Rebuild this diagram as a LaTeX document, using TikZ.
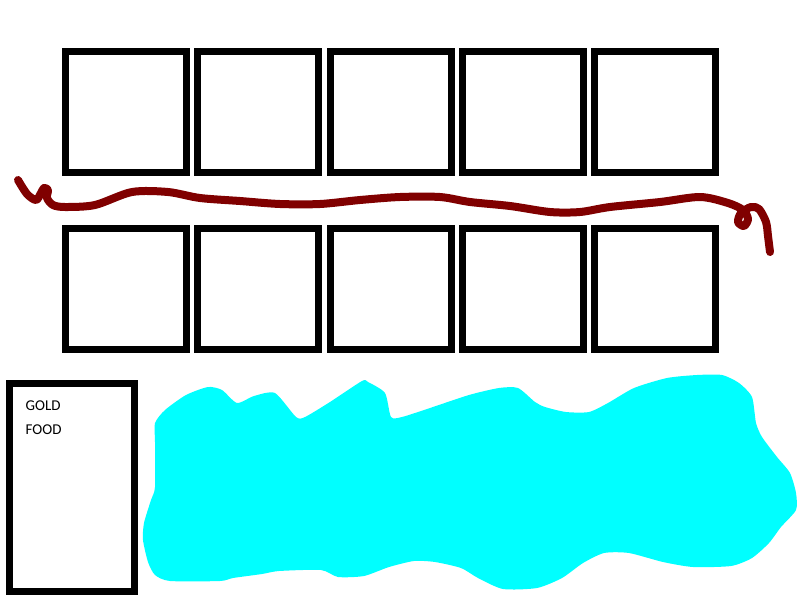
\documentclass[tikz,border=0pt]{standalone}
\usepackage{fontspec}
\setmainfont{Carlito}
\usetikzlibrary{positioning}
\definecolor{mymaroon}{RGB}{128,0,0}
\definecolor{mycyan}{RGB}{0,255,255}
\tikzset{
  slot/.style={rectangle, draw=black, fill=white, line width=7pt,
    minimum width=121pt, minimum height=121pt, inner sep=0pt},
  panel/.style={rectangle, draw=black, fill=white, line width=7pt,
    minimum width=125pt, minimum height=208pt, inner sep=0pt},
  itemtext/.style={inner sep=0pt, anchor=base west,
    font=\fontsize{15}{18}\selectfont, text=black},
  river/.style={draw=mymaroon, line width=8pt, line cap=round, line join=round},
  lake/.style={fill=mycyan, draw=none}
}

\begin{document}
\begin{tikzpicture}[x=1pt, y=-1pt]

  % ── Canvas: 800 x 600 ─────────────────────────────────────────────────────
  \useasboundingbox (0,0) rectangle (800,600);

  % ── Slot rows: top at y=112, bottom at y=289 ──────────────────────────────
  \foreach \i in {0,...,4} {
    \node[slot] (top\i) at ({126+132.25*\i}, 112) {};
    \node[slot] (bot\i) at ({126+132.25*\i}, 289) {};
  }

  % ── Wavy line between the rows ────────────────────────────────────────────
  \draw[river] plot[smooth, tension=0.5] coordinates {
    (18,180) (27,194) (36,200) (41,193) (44,188) (48,190) (47,198)
    (53,205) (65,207) (95,205) (132,192) (168,192) (200,198) (240,201)
    (280,204) (320,204) (360,200) (400,197) (440,197) (470,202)
    (510,206) (550,212) (580,212) (610,207) (660,202) (700,197)
    (728,203) (743,210) (748,219) (744,226) (738,222) (741,213)
    (751,207) (759,209) (766,222) (768,236) (770,252)};

  % ── Inventory panel ───────────────────────────────────────────────────────
  \node[panel] (inv) at (72, 487.5) {};
  \node[itemtext] (gold) at (25.5, 410) {GOLD};
  \node[itemtext] (food) at (25.5, 434) {FOOD};

  % ── Water area ────────────────────────────────────────────────────────────
  \fill[lake] plot[smooth cycle, tension=0.4] coordinates {
    (155,442) (155,423) (165,410) (186,395) (208,387) (222,390)
    (237,403) (254,396) (275,393) (296,417) (305,417) (330,402)
    (362,381) (368,382) (385,393) (391,417) (402,417) (427,409)
    (469,395) (499,388) (518,388) (535,402) (545,407) (566,412)
    (589,412) (608,403) (634,388) (667,378) (697,375) (722,375)
    (739,383) (752,397) (756,423) (762,437) (777,457) (790,473)
    (796,493) (796,510) (781,527) (769,543) (752,558) (731,566)
    (693,567) (663,562) (629,553) (604,553) (583,563) (562,578)
    (537,588) (503,589) (478,578) (461,568) (435,562) (414,561)
    (389,567) (364,576) (338,577) (321,570) (279,571) (262,574)
    (233,578) (220,581) (170,581) (155,575) (148,562) (143,540)
    (144,523) (151,500) (155,487)};

\end{tikzpicture}
\end{document}
